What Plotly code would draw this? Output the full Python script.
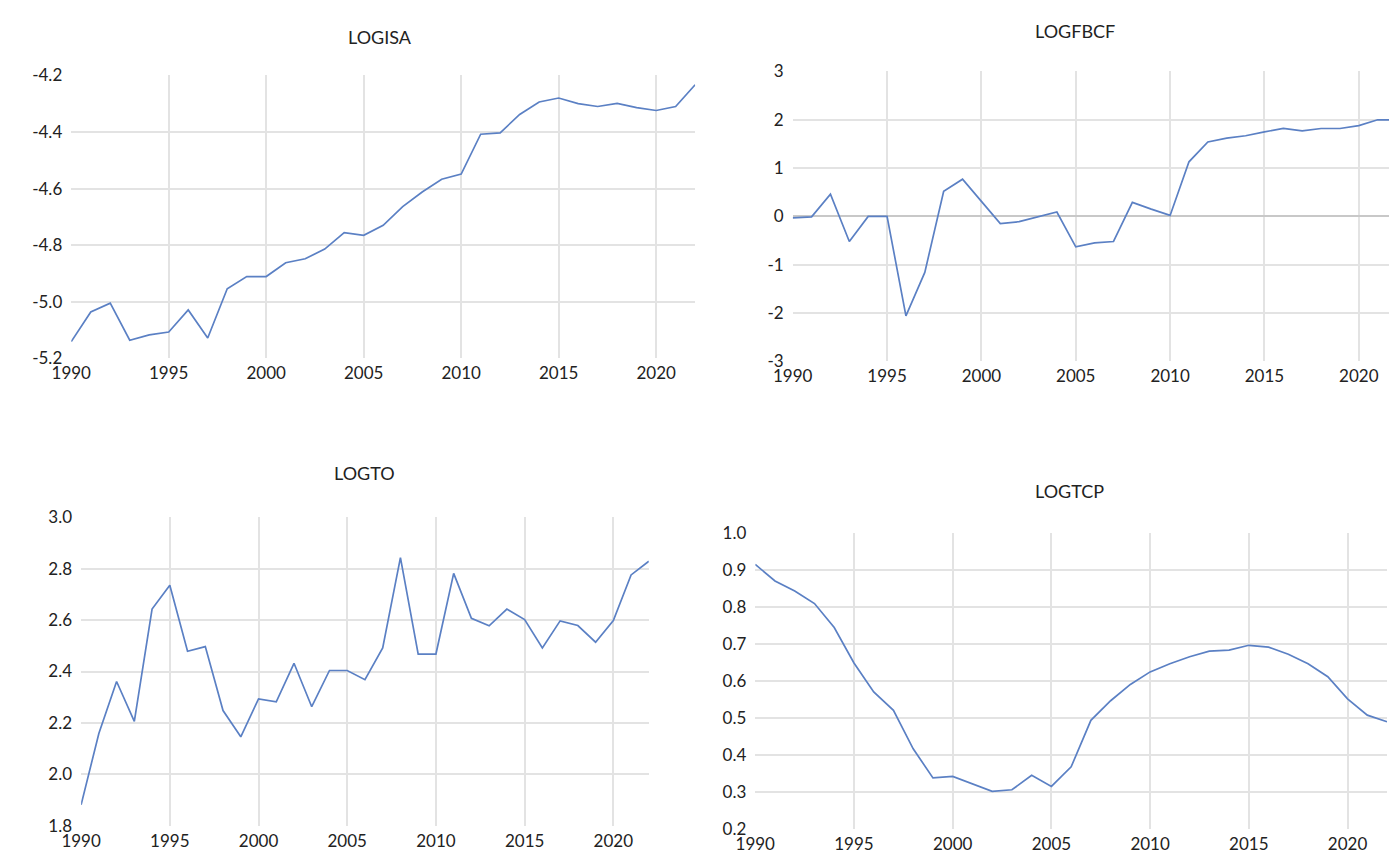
import plotly.graph_objects as go

W, H = 1389, 862

YEARS = list(range(1990, 2023))

LOGISA = [-5.141, -5.036, -5.005, -5.136, -5.117, -5.107, -5.029, -5.128, -4.954, -4.911,
          -4.911, -4.862, -4.848, -4.814, -4.756, -4.765, -4.730, -4.664, -4.612, -4.567,
          -4.549, -4.408, -4.403, -4.338, -4.294, -4.280, -4.300, -4.310, -4.299, -4.314,
          -4.324, -4.310, -4.233]

LOGFBCF = [-0.03, -0.01, 0.46, -0.52, 0.0, 0.0, -2.06, -1.16, 0.52, 0.77,
           0.31, -0.15, -0.11, -0.01, 0.09, -0.63, -0.55, -0.52, 0.29, 0.15,
           0.02, 1.13, 1.54, 1.62, 1.67, 1.75, 1.82, 1.77, 1.82, 1.82,
           1.88, 2.0, 2.0]

LOGTO = [1.881, 2.159, 2.361, 2.206, 2.643, 2.736, 2.479, 2.497, 2.248, 2.146,
         2.293, 2.282, 2.432, 2.263, 2.404, 2.404, 2.368, 2.492, 2.843, 2.468,
         2.468, 2.782, 2.607, 2.578, 2.643, 2.602, 2.492, 2.597, 2.579, 2.514,
         2.598, 2.776, 2.829]

LOGTCP = [0.915, 0.870, 0.843, 0.809, 0.744, 0.648, 0.570, 0.520, 0.416, 0.337,
          0.341, 0.321, 0.301, 0.305, 0.344, 0.314, 0.367, 0.493, 0.546, 0.590,
          0.624, 0.646, 0.665, 0.680, 0.683, 0.696, 0.691, 0.672, 0.646, 0.611,
          0.551, 0.507, 0.489]

X_TICKS = [1990, 1995, 2000, 2005, 2010, 2015, 2020]
X_GRID = [1995, 2000, 2005, 2010, 2015, 2020]

LINE = "#5b80c4"
GRID = "#e3e3e3"
TEXT = "#222222"
FONT = "Lato, 'Open Sans', sans-serif"

# name, values, pixel box (left, right, top, bottom), x range, y range, y ticks, title pos
PANELS = [
    ("LOGISA", LOGISA, (52, 685, 66, 356), [1990, 2022], [-5.2, -4.2],
     [-5.2, -5.0, -4.8, -4.6, -4.4, -4.2], (365, 27)),
    ("LOGFBCF", LOGFBCF, (784, 1389, 62, 359), [1990, 2021.6], [-3, 3],
     [-3, -2, -1, 0, 1, 2, 3], (1070, 20)),
    ("LOGTO", LOGTO, (62, 638, 519, 835), [1990, 2022], [1.8, 3.0],
     [1.8, 2.0, 2.2, 2.4, 2.6, 2.8, 3.0], (350, 474)),
    ("LOGTCP", LOGTCP, (746, 1387, 535, 838), [1990, 2022], [0.2, 1.0],
     [0.2, 0.3, 0.4, 0.5, 0.6, 0.7, 0.8, 0.9, 1.0], (1065, 492)),
]

fig = go.Figure()
layout = {}
annotations = []

for i, (name, vals, box, xr, yr, yt, title_pos) in enumerate(PANELS, start=1):
    l, r, t, b = box
    sfx = "" if i == 1 else str(i)
    fig.add_trace(go.Scatter(
        x=YEARS, y=vals, mode="lines",
        line=dict(color=LINE, width=1.7),
        xaxis="x" + sfx, yaxis="y" + sfx,
        showlegend=False,
    ))
    ydec = 0 if name == "LOGFBCF" else 1
    layout["xaxis" + sfx] = dict(
        domain=[l / W, r / W], range=xr, anchor="y" + sfx,
        tickvals=X_TICKS, ticktext=[str(v) for v in X_TICKS],
        showgrid=False, zeroline=False, showline=False, ticks="",
        minor=dict(tickvals=X_GRID, showgrid=True, gridcolor=GRID, gridwidth=1.5, ticks=""),
        tickfont=dict(size=17, color=TEXT, family=FONT),
        ticklabelstandoff=3,
    )
    # grid only on inner ticks, none at top/bottom edges
    inner = [v for v in yt[1:-1] if not (v == 0 and name == "LOGFBCF")]
    layout["yaxis" + sfx] = dict(
        domain=[1 - b / H, 1 - t / H], range=yr, anchor="x" + sfx,
        tickvals=yt, ticktext=[f"{v:.{ydec}f}" for v in yt],
        showgrid=False, showline=False, ticks="",
        zeroline=(name == "LOGFBCF"), zerolinecolor="#c8c8c8", zerolinewidth=1.8,
        minor=dict(tickvals=inner, showgrid=True, gridcolor=GRID, gridwidth=1.5, ticks=""),
        tickfont=dict(size=17, color=TEXT, family=FONT),
        ticklabelstandoff=8,
    )
    annotations.append(dict(
        text=name, x=title_pos[0] / W, y=1 - title_pos[1] / H,
        xref="paper", yref="paper", showarrow=False,
        xanchor="center", yanchor="middle",
        font=dict(size=18, color=TEXT, family=FONT),
    ))

fig.update_layout(
    **layout,
    annotations=annotations,
    width=W, height=H,
    margin=dict(l=0, r=0, t=0, b=0),
    paper_bgcolor="white", plot_bgcolor="white",
)

# page body has a default 8px margin; drop it so the figure sits at the window corner
fig.write_html(
    "out.html",
    config={"displayModeBar": False},
    post_script="document.body.style.margin='0';",
)
